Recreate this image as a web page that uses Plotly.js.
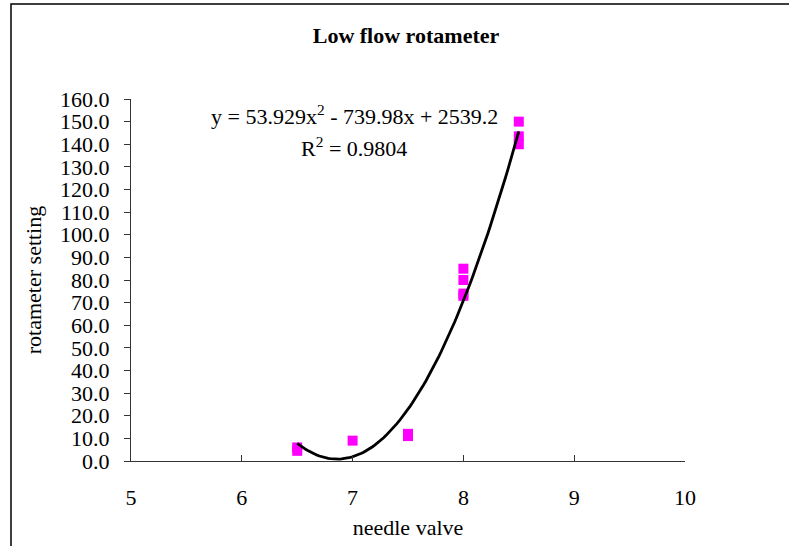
<!DOCTYPE html>
<html>
<head>
<meta charset="utf-8">
<script src="https://cdn.plot.ly/plotly-3.0.1.min.js"></script>
<style>html,body{margin:0;padding:0;background:#fff;}#chart{width:789px;height:546px;}</style>
</head>
<body>
<div id="chart"></div>
<script>
// Data
const needleValve = [6.5, 6.5, 7.0, 7.5, 7.5, 8.0, 8.0, 8.0, 8.0, 8.5, 8.5, 8.5];
const rotameterSetting = [4.5, 6.0, 9.0, 11.0, 12.0, 73.0, 74.0, 80.0, 85.0, 140.0, 143.5, 150.0];
// Polynomial trendline coefficients as printed on the chart (a*x^2 + b*x + c)
const trendCoefficients = [53.929, -739.98, 2539.2];
const trendLabel = "y = 53.929x<sup>2</sup> - 739.98x + 2539.2";
const r2Label = "R<sup>2</sup> = 0.9804";
const xTicks = [5, 6, 7, 8, 9, 10];
const yTicks = [0, 10, 20, 30, 40, 50, 60, 70, 80, 90, 100, 110, 120, 130, 140, 150, 160];

const xMin = Math.min(...needleValve), xMax = Math.max(...needleValve);
const trendX = [], trendY = [];
const steps = 100;
for (let i = 0; i <= steps; i++) {
  const x = xMin + (xMax - xMin) * i / steps;
  trendX.push(x);
  trendY.push(trendCoefficients[0] * x * x + trendCoefficients[1] * x + trendCoefficients[2]);
}

const serif = "Liberation Serif, Times New Roman, serif";

const traces = [
  {
    x: needleValve, y: rotameterSetting, type: 'scatter', mode: 'markers',
    marker: {symbol: 'square', size: 10, color: '#FF00FF', line: {width: 0}},
    showlegend: false, hoverinfo: 'x+y'
  },
  {
    x: trendX, y: trendY, type: 'scatter', mode: 'lines',
    line: {color: '#000000', width: 2.8},
    showlegend: false, hoverinfo: 'skip'
  }
];

const layout = {
  width: 789, height: 546,
  margin: {l: 131, r: 104, t: 99, b: 85},
  paper_bgcolor: '#ffffff', plot_bgcolor: '#ffffff',
  font: {family: serif, color: '#000000', size: 22},
  title: {
    text: '<b>Low flow rotameter</b>',
    font: {family: serif, size: 22, color: '#000000'},
    x: 406 / 789, xref: 'container', xanchor: 'center',
    y: 1 - 35 / 546, yref: 'container', yanchor: 'middle'
  },
  xaxis: {
    range: [5, 10], tickvals: xTicks, ticktext: xTicks.map(String),
    ticks: 'inside', ticklen: 6, tickwidth: 1, tickcolor: '#333333',
    showline: true, linecolor: '#333333', linewidth: 1,
    showgrid: false, zeroline: false,
    tickfont: {family: serif, size: 22, color: '#000000'},
    ticklabelstandoff: 17,
    title: {text: 'needle valve', font: {family: serif, size: 22, color: '#000000'}, standoff: 10}
  },
  yaxis: {
    range: [0, 160], tickvals: yTicks, ticktext: yTicks.map(v => v.toFixed(1)),
    ticks: 'outside', ticklen: 6, tickwidth: 1, tickcolor: '#333333',
    showline: true, linecolor: '#333333', linewidth: 1,
    showgrid: false, zeroline: false,
    tickfont: {family: serif, size: 22, color: '#000000'},
    ticklabelstandoff: 10,
    title: {text: 'rotameter setting', font: {family: serif, size: 22, color: '#000000'}, standoff: 12}
  },
  annotations: [
    {text: trendLabel, xref: 'paper', yref: 'paper', x: 0.4043, y: 0.955,
     xanchor: 'center', yanchor: 'middle', showarrow: false,
     font: {family: serif, size: 22, color: '#000000'}},
    {text: r2Label, xref: 'paper', yref: 'paper', x: 0.4025, y: 0.868,
     xanchor: 'center', yanchor: 'middle', showarrow: false,
     font: {family: serif, size: 22, color: '#000000'}}
  ],
  shapes: [
    {type: 'rect', xref: 'paper', yref: 'paper',
     x0: -0.2166, x1: 1.5, y0: -0.5, y1: 1.2624,
     line: {color: '#000000', width: 1.5}, fillcolor: 'rgba(0,0,0,0)', layer: 'below'}
  ]
};

Plotly.newPlot('chart', traces, layout, {displayModeBar: false, staticPlot: true});
</script>
</body>
</html>
